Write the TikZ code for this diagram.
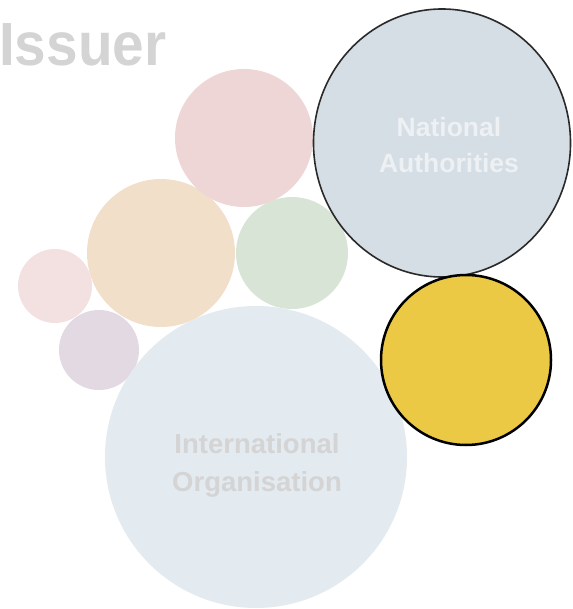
\documentclass[tikz,border=0pt]{standalone}
\usepackage{fontspec}
\usetikzlibrary{shapes.geometric}
\setmainfont{Liberation Sans}
\definecolor{natfill}{HTML}{D5DDE5}
\definecolor{natline}{HTML}{2A2A2A}
\definecolor{yelfill}{HTML}{EBC944}
\definecolor{pinkA}{HTML}{EED5D6}
\definecolor{peach}{HTML}{F2DFCA}
\definecolor{greenA}{HTML}{D8E5D6}
\definecolor{pinkB}{HTML}{F3E1E2}
\definecolor{lav}{HTML}{E3D9E2}
\definecolor{intfill}{HTML}{E3EAF0}
\definecolor{greytext}{HTML}{D4D4D4}
\definecolor{nattext}{HTML}{EEF1F4}
\tikzset{
  bubble/.style={circle, inner sep=0pt, outer sep=0pt, minimum size=#1},
  lbl/.style={anchor=base, inner sep=0pt, font=\bfseries\fontsize{26.5}{30}\selectfont},
}
\begin{document}
\begin{tikzpicture}[x=1pt,y=-1pt]
\useasboundingbox (0,0) rectangle (572,609);
\node[bubble=148pt, fill=peach] (peach) at (161,253) {};
\node[bubble=74pt, fill=pinkB] (pinkB) at (55,286) {};
\node[bubble=80pt, fill=lav] (lav) at (99,350) {};
\node[bubble=138pt, fill=pinkA] (pinkA) at (244,138) {};
\node[bubble=112pt, fill=greenA] (green) at (292,253) {};
\node[bubble=302pt, fill=intfill] (intl) at (256,457) {};
\node[ellipse, inner sep=0pt, outer sep=0pt, minimum width=257pt, minimum height=268pt,
  fill=natfill, draw=natline, line width=1.6pt] (nat) at (442,143) {};
\node[bubble=170pt, fill=yelfill, draw=black, line width=2.5pt] (yel) at (466,360) {};
\node[anchor=base west, inner sep=0pt, text=greytext, xscale=0.93,
  font=\bfseries\fontsize{61}{70}\selectfont] (issuer) at (-1,66) {Issuer};
\node[lbl, text=nattext] (natA) at (449,137) {National};
\node[lbl, text=nattext] (natB) at (449,173) {Authorities};
\node[lbl, text=greytext, font=\bfseries\fontsize{27.5}{30}\selectfont] (intA) at (257,453) {International};
\node[lbl, text=greytext, font=\bfseries\fontsize{27.5}{30}\selectfont] (intB) at (257,491) {Organisation};
\end{tikzpicture}
\end{document}
